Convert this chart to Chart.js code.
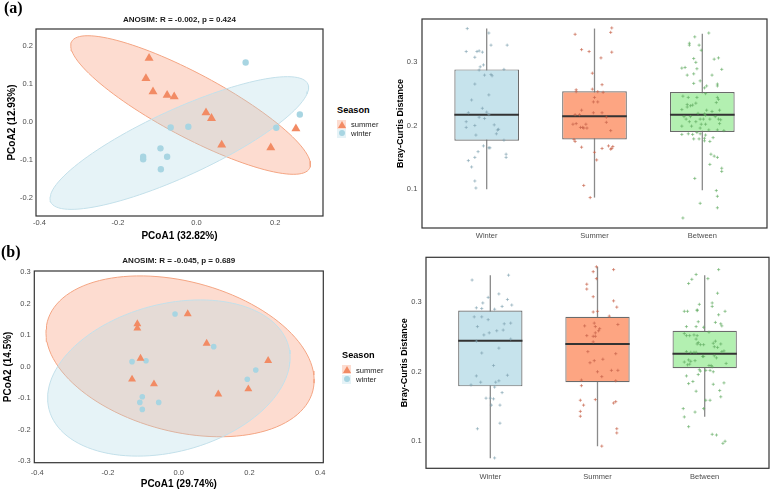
<!DOCTYPE html>
<html>
<head>
<meta charset="utf-8">
<title>PCoA and Bray-Curtis distance</title>
<script src="https://cdn.jsdelivr.net/npm/chart.js@4.4.1/dist/chart.umd.min.js"></script>
<style>
  body { margin: 0; background: #fff; }
  #fig { position: relative; width: 774px; height: 489px; overflow: hidden; background: #fff;
         font-family: 'Liberation Sans', Arial, sans-serif; color: #1a1a1a; }
  #fig canvas { position: absolute; }
  .tag { position: absolute; font: bold 16px/16px 'Liberation Serif', 'Times New Roman', serif; color: #000; }
  .ttl { position: absolute; font-weight: bold; font-size: 9.2px; line-height: 11px; color: #000; }
  .lab { position: absolute; font-size: 7.6px; line-height: 9px; color: #222; }
  .key { position: absolute; width: 9px; height: 9px; }
  .key.s { background: rgba(250,140,100,0.3); }
  .key.w { background: rgba(173,216,230,0.3); }
  .key.s::after { content: ''; position: absolute; left: 0.5px; top: 1px; border-left: 4px solid transparent;
                  border-right: 4px solid transparent; border-bottom: 7px solid #f28b64; }
  .key.w::after { content: ''; position: absolute; left: 1.5px; top: 1.5px; width: 6px; height: 6px;
                  border-radius: 50%; background: #a8d5e2; }
</style>
</head>
<body>
<div id="fig">
  <canvas id="pcoaA" width="330" height="245" style="left:0;top:0"></canvas>
  <canvas id="boxA" width="394" height="245" style="left:380px;top:0"></canvas>
  <canvas id="pcoaB" width="340" height="249" style="left:0;top:240px"></canvas>
  <canvas id="boxB" width="394" height="239" style="left:380px;top:250px"></canvas>

  <div class="tag" style="left:4px;top:0">(a)</div>
  <div class="tag" style="left:1px;top:244px">(b)</div>

  <div class="ttl" style="left:337px;top:105px">Season</div>
  <div class="key s" style="left:337px;top:119.5px"></div>
  <div class="lab" style="left:351px;top:119.5px">summer</div>
  <div class="key w" style="left:337px;top:128.5px"></div>
  <div class="lab" style="left:351px;top:128.5px">winter</div>

  <div class="ttl" style="left:342px;top:349.5px">Season</div>
  <div class="key s" style="left:342px;top:365px"></div>
  <div class="lab" style="left:356px;top:365.5px">summer</div>
  <div class="key w" style="left:342px;top:374.5px"></div>
  <div class="lab" style="left:356px;top:375px">winter</div>
</div>
<script>
const FONT = "'Liberation Sans', Arial, sans-serif";
Chart.defaults.font.family = FONT;

const groups = ['Winter', 'Summer', 'Between'];

// ---- PCoA (a) ----
const sumAx = [-0.121, -0.129, -0.111, -0.075, -0.057, 0.024, 0.038, 0.064, 0.189, 0.253];
const sumAy = [0.167, 0.114, 0.079, 0.070, 0.066, 0.024, 0.009, -0.061, -0.068, -0.018];
const winAx = [0.125, 0.263, 0.203, -0.021, -0.066, -0.092, -0.075, -0.136, -0.136, -0.091];
const winAy = [0.156, 0.019, -0.016, -0.013, -0.015, -0.070, -0.092, -0.092, -0.099, -0.125];
// ellipse: centre x, centre y, first axis (dx, dy), second axis (dx, dy)
const sumAEll = [-0.0153, 0.044, 0.303, -0.1668, -0.0378, -0.0736];
const winAEll = [-0.044, -0.056, 0.3275, 0.1553, 0.0353, -0.0798];
const xTicksA = [-0.4, -0.2, 0, 0.2];
const yTicksA = [-0.2, -0.1, 0, 0.1, 0.2];

// ---- PCoA (b) ----
const sumBx = [0.0255, -0.117, -0.117, 0.079, -0.108, 0.253, -0.132, -0.070, 0.112, 0.197];
const sumBy = [0.1675, 0.136, 0.122, 0.074, 0.0265, 0.019, -0.040, -0.055, -0.087, -0.071];
const winBx = [-0.0104, 0.099, -0.132, -0.0925, 0.218, 0.194, -0.103, -0.110, -0.0566, -0.103];
const winBy = [0.1675, 0.0636, 0.016, 0.019, -0.0106, -0.040, -0.0954, -0.1134, -0.1134, -0.1357];
const sumBEll = [0.0038, 0.0329, 0.3755, -0.1099, -0.0535, -0.2307];
const winBEll = [-0.0278, -0.036, 0.3388, 0.1006, 0.0533, -0.2268];
const xTicksB = [-0.4, -0.2, 0, 0.2, 0.4];
const yTicksB = [-0.3, -0.2, -0.1, 0, 0.1, 0.2, 0.3];

// ---- Bray-Curtis boxplots: whisker low, Q1, median, Q3, whisker high ----
const loA = [0.100, 0.087, 0.0984];
const q1A = [0.176, 0.178, 0.190];
const medA = [0.217, 0.2146, 0.217];
const q3A = [0.288, 0.2536, 0.2525];
const hiA = [0.352, 0.352, 0.344];

const loB = [0.0755, 0.093, 0.1354];
const q1B = [0.179, 0.185, 0.205];
const medB = [0.2446, 0.240, 0.226];
const q3B = [0.288, 0.279, 0.259];
const hiB = [0.339, 0.351, 0.339];

const yTicksBox = [0.1, 0.2, 0.3];

// jittered pairwise distances (value, horizontal jitter)
const winADist = [0.352,0.345,0.326,0.326,0.316,0.316,0.317,0.315,0.307,0.292,0.295,0.287,0.288,0.280,0.278,
  0.279,0.265,0.248,0.240,0.227,0.220,0.221,0.217,0.213,0.211,0.206,0.197,0.200,0.201,0.194,
  0.193,0.187,0.185,0.177,0.168,0.165,0.165,0.159,0.155,0.150,0.150,0.145,0.135,0.113,0.102];
const winAJit = [-0.18,0.02,0.04,0.19,-0.19,-0.09,-0.07,-0.04,-0.11,-0.06,-0.03,-0.07,0.16,0.04,0.05,
  -0.02,-0.11,0.02,-0.14,-0.04,-0.17,0.00,0.02,-0.07,-0.02,-0.19,-0.19,-0.11,0.07,0.11,
  0.10,0.09,-0.10,0.16,-0.03,0.02,0.03,-0.08,0.18,0.18,-0.11,-0.17,-0.14,-0.11,-0.10];
const sumADist = [0.343,0.353,0.346,0.319,0.316,0.315,0.306,0.282,0.264,0.256,0.253,0.257,0.253,0.252,0.244,
  0.237,0.237,0.224,0.220,0.220,0.217,0.217,0.213,0.205,0.203,0.202,0.202,0.197,0.197,0.196,
  0.196,0.192,0.178,0.175,0.166,0.158,0.164,0.168,0.163,0.167,0.164,0.146,0.106,0.087];
const sumAJit = [-0.18,0.16,0.15,-0.12,-0.05,0.16,0.06,-0.02,0.07,-0.17,-0.17,-0.02,0.03,0.08,0.00,
  -0.01,0.03,-0.12,-0.01,0.07,-0.18,-0.14,0.11,0.11,-0.17,-0.20,-0.08,-0.13,-0.11,-0.10,
  -0.07,0.15,-0.19,-0.18,-0.12,0.00,0.07,0.13,0.15,0.17,0.16,0.02,-0.10,-0.04];
const betADist = [0.345,0.339,0.329,0.326,0.326,0.318,0.305,0.304,0.306,0.299,
  0.288,0.290,0.291,0.289,0.279,0.281,0.279,0.270,0.265,0.262,
  0.266,0.262,0.259,0.250,0.246,0.244,0.244,0.244,0.241,0.236,
  0.233,0.232,0.235,0.231,0.229,0.225,0.224,0.224,0.219,0.218,
  0.214,0.214,0.216,0.222,0.210,0.210,0.210,0.210,0.214,0.210,
  0.206,0.206,0.202,0.202,0.199,0.199,0.203,0.209,0.196,0.193,
  0.193,0.192,0.189,0.187,0.186,0.186,0.187,0.185,0.179,0.179,
  0.180,0.181,0.176,0.175,0.155,0.152,0.150,0.139,0.133,0.128,
  0.117,0.098,0.089,0.078,0.071,0.055];
const betAJit = [0.06,-0.07,-0.12,-0.12,-0.03,-0.01,-0.08,0.11,0.15,-0.06,
  0.18,-0.19,-0.16,-0.05,-0.14,-0.08,0.09,-0.02,0.14,0.14,
  -0.08,0.04,0.02,0.03,-0.18,-0.13,-0.05,0.14,0.15,0.13,
  -0.14,-0.09,-0.06,-0.11,-0.14,-0.19,0.04,0.16,-0.04,0.02,
  -0.17,-0.11,0.03,0.09,-0.15,-0.02,0.01,0.07,0.12,0.15,
  -0.12,-0.06,0.03,-0.01,-0.19,-0.10,0.16,0.17,-0.02,0.06,
  0.14,0.20,-0.05,-0.13,-0.09,-0.19,-0.02,0.03,-0.08,-0.03,
  0.02,0.10,0.02,0.07,0.08,0.11,0.14,0.07,0.18,0.18,
  -0.07,0.13,0.14,-0.02,0.14,-0.18];

const winBDist = [0.332,0.339,0.307,0.312,0.304,0.299,0.294,0.296,0.292,0.291,
  0.290,0.279,0.279,0.275,0.269,0.270,0.265,0.253,0.256,0.259,
  0.260,0.244,0.247,0.227,0.234,0.209,0.194,0.195,0.185,0.181,
  0.185,0.187,0.178,0.170,0.162,0.162,0.161,0.152,0.152,0.126,
  0.118,0.076];
const winBJit = [-0.17,0.17,-0.02,0.08,0.16,-0.07,0.11,0.20,-0.13,-0.08,
  0.04,-0.15,-0.08,-0.02,0.13,0.19,-0.12,-0.06,-0.01,0.06,
  0.12,-0.13,0.19,-0.08,0.08,0.03,-0.13,0.16,-0.09,-0.18,
  0.05,0.08,0.04,0.11,-0.04,0.00,0.03,0.01,0.09,0.09,
  -0.12,0.04];
const sumBDist = [0.351,0.347,0.344,0.334,0.326,0.319,0.308,0.302,0.293,0.286,
  0.287,0.280,0.266,0.270,0.265,0.268,0.262,0.259,0.256,0.252,
  0.251,0.251,0.243,0.229,0.226,0.218,0.216,0.213,0.200,0.202,
  0.202,0.193,0.188,0.187,0.180,0.160,0.159,0.152,0.157,0.155,
  0.143,0.136,0.118,0.112,0.093];
const sumBJit = [-0.01,0.15,-0.04,-0.01,-0.10,-0.10,-0.04,0.15,0.18,-0.04,
  0.00,0.11,-0.12,-0.03,-0.02,0.19,0.02,0.01,-0.02,-0.10,
  -0.04,-0.02,-0.04,-0.09,0.17,0.05,-0.03,-0.07,0.00,0.13,
  0.19,0.04,-0.15,0.17,-0.15,-0.02,-0.16,-0.13,0.17,0.15,
  -0.16,-0.16,0.18,0.18,0.04];
const betBDist = [0.347,0.340,0.333,0.327,0.334,0.313,0.297,0.299,0.294,0.287,
  0.287,0.289,0.288,0.287,0.282,0.271,0.269,0.266,0.265,0.265,
  0.264,0.272,0.257,0.255,0.252,0.252,0.253,0.252,0.247,0.242,
  0.240,0.239,0.239,0.244,0.240,0.241,0.236,0.235,0.229,0.230,
  0.229,0.228,0.228,0.228,0.222,0.222,0.223,0.220,0.217,0.215,
  0.216,0.214,0.210,0.211,0.209,0.209,0.207,0.212,0.203,0.202,
  0.194,0.196,0.201,0.202,0.200,0.183,0.186,0.182,0.184,0.172,
  0.173,0.164,0.159,0.159,0.147,0.147,0.142,0.135,0.121,0.110,
  0.109,0.097,0.100];
const betBJit = [0.13,-0.08,-0.12,-0.15,0.03,0.12,-0.05,0.07,0.07,-0.19,
  -0.16,-0.07,-0.07,0.19,0.13,0.10,0.15,0.16,-0.17,-0.08,
  -0.01,-0.06,0.04,-0.19,-0.17,-0.14,-0.10,-0.07,-0.08,-0.06,
  -0.07,-0.04,-0.01,0.10,0.15,0.08,0.09,0.12,0.16,0.18,
  -0.17,-0.13,-0.10,-0.08,-0.02,-0.01,0.09,0.11,-0.15,-0.13,
  -0.09,-0.19,-0.16,-0.14,0.06,0.04,0.07,0.20,-0.05,0.01,
  -0.17,-0.06,-0.04,0.05,0.08,-0.15,-0.11,0.08,0.18,-0.08,
  0.14,0.15,0.01,0.05,-0.20,-0.01,-0.09,-0.19,-0.15,0.07,
  0.11,0.17,0.19];

// colours
const SUM_PT = '#f28b64';
const WIN_PT = '#a8d5e2';
const BOX_FILL = ['#c6e3ec', '#fda582', '#b3f0b1'];
const JIT_COL = ['rgba(125,160,175,0.6)', 'rgba(200,100,75,0.65)', 'rgba(95,170,95,0.6)'];

const zip = (xs, ys) => xs.map((x, i) => ({x, y: ys[i]}));

function ellipse(e) {
  const pts = [];
  for (let i = 0; i <= 120; i++) {
    const t = i * Math.PI / 60;
    pts.push({x: e[0] + e[2] * Math.cos(t) + e[4] * Math.sin(t),
              y: e[1] + e[3] * Math.cos(t) + e[5] * Math.sin(t)});
  }
  return pts;
}

// panel frame
const frame = {
  id: 'frame',
  afterDatasetsDraw(chart) {
    const a = chart.chartArea, ctx = chart.ctx;
    ctx.save();
    ctx.strokeStyle = '#333';
    ctx.lineWidth = 1.2;
    ctx.strokeRect(a.left, a.top, a.right - a.left, a.bottom - a.top);
    ctx.restore();
  }
};

function axis(o) {
  return {
    type: 'linear', min: o.min, max: o.max, offset: false,
    grid: {display: false, drawTicks: false},
    border: {display: false},
    afterBuildTicks: s => { s.ticks = o.ticks.map(v => ({value: v})); },
    afterFit: s => {
      if (o.w) s.width = o.w;
      if (o.h) s.height = o.h;
      s.paddingTop = s.paddingBottom = s.paddingLeft = s.paddingRight = 0;
    },
    ticks: {padding: o.pad, color: '#4d4d4d', font: {size: 7.5}, autoSkip: false, maxRotation: 0,
            callback: o.fmt || (v => v.toFixed(1))},
    title: {display: !!o.title, text: o.title, color: '#000', padding: o.tpad || 0,
            font: {size: o.tsize || 10, weight: 'bold', lineHeight: 1}}
  };
}

function baseOpts(pad, x, y, title) {
  return {
    responsive: false, animation: false, devicePixelRatio: 1, events: [],
    layout: {padding: pad},
    plugins: {legend: {display: false}, tooltip: {enabled: false}, title: title || {display: false}},
    scales: {x, y}
  };
}

function pcoa(id, o) {
  new Chart(document.getElementById(id), {
    type: 'scatter',
    data: {datasets: [
      {data: zip(o.sx, o.sy), pointStyle: 'triangle', pointRadius: o.tri, backgroundColor: SUM_PT, borderWidth: 0, order: 0},
      {data: zip(o.wx, o.wy), pointStyle: 'circle', pointRadius: o.dot, backgroundColor: WIN_PT, borderWidth: 0, order: 0},
      {data: ellipse(o.we), showLine: true, pointRadius: 0, fill: 'shape',
       backgroundColor: 'rgba(173,216,230,0.3)', borderColor: '#c3e0ea', borderWidth: 1, order: 1},
      {data: ellipse(o.se), showLine: true, pointRadius: 0, fill: 'shape',
       backgroundColor: 'rgba(250,140,100,0.3)', borderColor: '#f4a583', borderWidth: 1, order: 2}
    ]},
    options: baseOpts(o.pad, o.x, o.y, {
      display: true, text: o.title, fullSize: false, color: '#1a1a1a',
      font: {size: 8, weight: 'bold', lineHeight: 1.2}, padding: o.tpad
    }),
    plugins: [frame]
  });
}

function boxplot(id, o) {
  const ds = [];
  o.dist.forEach((ys, g) => {
    ds.push({type: 'scatter', data: ys.map((y, k) => ({x: g + 1 + o.jit[g][k], y})),
             pointStyle: 'cross', pointRadius: 1.6, borderWidth: 1, borderColor: JIT_COL[g], order: 0});
    ds.push({type: 'scatter', showLine: true, pointRadius: 0, borderColor: '#333', borderWidth: 2, order: 1,
             data: [{x: g + 1 - 0.3, y: o.med[g]}, {x: g + 1 + 0.3, y: o.med[g]}]});
    ds.push({type: 'scatter', showLine: true, pointRadius: 0, borderColor: '#8a8a8a', borderWidth: 1.3, order: 3,
             data: [{x: g + 1, y: o.lo[g]}, {x: g + 1, y: o.hi[g]}]});
  });
  ds.push({type: 'bar', data: o.q1.map((q, g) => ({x: g + 1, y: [q, o.q3[g]]})),
           backgroundColor: BOX_FILL, borderColor: '#6b6b6b', borderWidth: 1.2, borderSkipped: false,
           categoryPercentage: 1, barPercentage: 0.6, order: 2});
  new Chart(document.getElementById(id), {
    type: 'scatter',
    data: {datasets: ds},
    options: baseOpts(o.pad, o.x, o.y),
    plugins: [frame]
  });
}

pcoa('pcoaA', {
  sx: sumAx, sy: sumAy, wx: winAx, wy: winAy, se: sumAEll, we: winAEll, tri: 5.2, dot: 3.2,
  title: 'ANOSIM: R = -0.002, p = 0.424', tpad: {top: 14.5, bottom: 4.9},
  pad: {top: 0, right: 7, left: 0, bottom: 0},
  x: axis({min: -0.409, max: 0.322, ticks: xTicksA, h: 29, pad: 2.2, title: 'PCoA1 (32.82%)', tpad: 4}),
  y: axis({min: -0.248, max: 0.244, ticks: yTicksA, w: 36, pad: 3, title: 'PCoA2 (12.93%)', tpad: 7.5})
});

pcoa('pcoaB', {
  sx: sumBx, sy: sumBy, wx: winBx, wy: winBy, se: sumBEll, we: winBEll, tri: 4.6, dot: 2.8,
  title: 'ANOSIM: R = -0.045, p = 0.689', tpad: {top: 16.2, bottom: 5.2},
  pad: {top: 0, right: 16.7, left: 0, bottom: 0},
  x: axis({min: -0.4085, max: 0.409, ticks: xTicksB, h: 26.3, pad: 6.1, title: 'PCoA1 (29.74%)', tpad: 0}),
  y: axis({min: -0.305, max: 0.304, ticks: yTicksB, w: 34.3, pad: 3.6, title: 'PCoA2 (14.5%)', tpad: 3.7})
});

boxplot('boxA', {
  dist: [winADist, sumADist, betADist], jit: [winAJit, sumAJit, betAJit],
  lo: loA, q1: q1A, med: medA, q3: q3A, hi: hiA,
  pad: {top: 19, right: 7, left: 0, bottom: 0},
  x: axis({min: 0.4, max: 3.6, ticks: [1, 2, 3], h: 17, pad: 3.5, fmt: v => groups[v - 1]}),
  y: axis({min: 0.0393, max: 0.367, ticks: yTicksBox, w: 42, pad: 4.7,
           title: 'Bray-Curtis Distance', tsize: 9, tpad: 16.2})
});

boxplot('boxB', {
  dist: [winBDist, sumBDist, betBDist], jit: [winBJit, sumBJit, betBJit],
  lo: loB, q1: q1B, med: medB, q3: q3B, hi: hiB,
  pad: {top: 7.3, right: 4.7, left: 0, bottom: 0},
  x: axis({min: 0.4, max: 3.6, ticks: [1, 2, 3], h: 20.7, pad: 4.5, fmt: v => groups[v - 1]}),
  y: axis({min: 0.0611, max: 0.3647, ticks: yTicksBox, w: 46, pad: 4.3,
           title: 'Bray-Curtis Distance', tsize: 9, tpad: 20.5})
});
</script>
</body>
</html>
